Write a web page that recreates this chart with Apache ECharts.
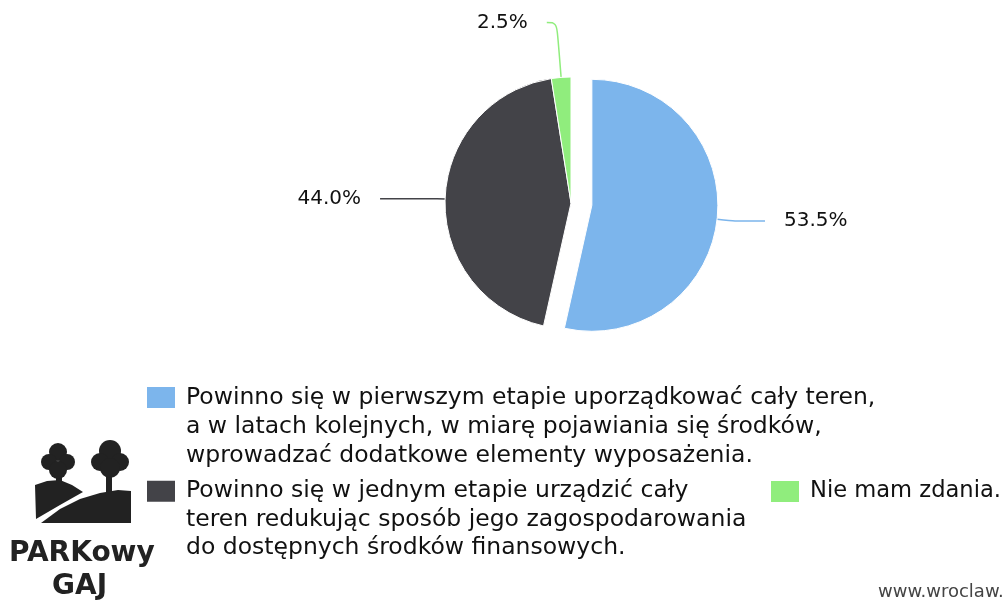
<!DOCTYPE html>
<html>
<head>
<meta charset="utf-8">
<script src="https://cdn.jsdelivr.net/npm/echarts@6/dist/echarts.min.js"></script>
<style>
html,body{margin:0;padding:0;background:#fff;}
#chart{width:1003px;height:603px;}
</style>
</head>
<body>
<div id="chart"></div>
<script>
const categories = [
  'Powinno się w pierwszym etapie uporządkować cały teren, a w latach kolejnych, w miarę pojawiania się środków, wprowadzać dodatkowe elementy wyposażenia.',
  'Powinno się w jednym etapie urządzić cały teren redukując sposób jego zagospodarowania do dostępnych środków finansowych.',
  'Nie mam zdania.'
];
const legendLines = [
  ['Powinno się w pierwszym etapie uporządkować cały teren,', 'a w latach kolejnych, w miarę pojawiania się środków,', 'wprowadzać dodatkowe elementy wyposażenia.'],
  ['Powinno się w jednym etapie urządzić cały', 'teren redukując sposób jego zagospodarowania', 'do dostępnych środków finansowych.'],
  ['Nie mam zdania.']
];
const values = [53.5, 44.0, 2.5];
const colors = ['#7cb5ec', '#434348', '#90ed7d'];
const sourceText = 'www.wroclaw.pl';
const logoLines = ['PARKowy', 'GAJ'];

const chart = echarts.init(document.getElementById('chart'), null, {renderer: 'canvas'});

const labelLineCfg = [
  {length: 18, length2: 30, smooth: 0.2},
  {length: 8, length2: 57, smooth: 0},
  {length: 55, length2: 10, smooth: 0.4}
];
const labelPad = [[7, 0, 0, 0], [4, 0, 0, 0], [4, 0, 0, 0]];

const data = categories.map((name, i) => ({
  name: name,
  value: values[i],
  selected: i === 0,
  itemStyle: {color: colors[i]},
  labelLine: labelLineCfg[i],
  label: {padding: labelPad[i]}
}));

// Leading blank lines keep the icon beside the first line of a wrapped legend entry.
function legendFmt(name) {
  const lines = legendLines[categories.indexOf(name)];
  const pad = new Array(lines.length - 1).fill('');
  return pad.concat(lines).join('\n');
}

const fontMain = '"DejaVu Sans", Verdana, sans-serif';

const legendBase = {
  orient: 'vertical',
  padding: 0,
  itemWidth: 30,
  itemHeight: 23,
  icon: 'rect',
  selectedMode: false,
  formatter: legendFmt
};

const option = {
  animation: false,
  backgroundColor: '#ffffff',
  legend: [
    Object.assign({}, legendBase, {
      data: [categories[0]], left: 145, top: 325,
      textStyle: {fontFamily: fontMain, fontSize: 23.5, lineHeight: 29, color: '#111', padding: [0, 0, 0, 5]}
    }),
    Object.assign({}, legendBase, {
      data: [categories[1]], left: 145, top: 420,
      textStyle: {fontFamily: fontMain, fontSize: 23.5, lineHeight: 28.5, color: '#111', padding: [0, 0, 0, 5]}
    }),
    Object.assign({}, legendBase, {
      data: [categories[2]], left: 769, top: 477,
      textStyle: {fontFamily: fontMain, fontSize: 22.6, lineHeight: 29, color: '#111', padding: [0, 0, 0, 5]}
    })
  ],
  series: [{
    type: 'pie',
    center: [571, 203],
    radius: 126,
    startAngle: 90,
    clockwise: true,
    selectedMode: 'single',
    selectedOffset: 21,
    avoidLabelOverlap: false,
    itemStyle: {borderColor: '#ffffff', borderWidth: 1},
    label: {
      show: true,
      formatter: p => p.value.toFixed(1) + '%',
      fontFamily: fontMain,
      fontSize: 20,
      color: '#111',
      distanceToLabelLine: 19
    },
    labelLine: {show: true, lineStyle: {width: 1.5}},
    emphasis: {disabled: true},
    select: {itemStyle: {borderColor: '#ffffff', borderWidth: 1}},
    data: data
  }],
  graphic: [
    {type: 'polygon', shape: {points: [[35,485],[47,481],[60,480],[72,485],[83,492],[60,505],[36,519]]}, style: {fill: '#222'}},
    {type: 'polygon', shape: {points: [[41,523],[60,509],[80,499],[100,493],[118,490],[131,491],[131,523]]}, style: {fill: '#222'}},
    {type: 'rect', shape: {x: 56, y: 468, width: 6, height: 18}, style: {fill: '#222'}},
    {type: 'circle', shape: {cx: 58, cy: 452, r: 9}, style: {fill: '#222'}},
    {type: 'circle', shape: {cx: 49, cy: 462, r: 8}, style: {fill: '#222'}},
    {type: 'circle', shape: {cx: 67, cy: 462, r: 8}, style: {fill: '#222'}},
    {type: 'circle', shape: {cx: 58, cy: 470, r: 9}, style: {fill: '#222'}},
    {type: 'rect', shape: {x: 106, y: 468, width: 6, height: 25}, style: {fill: '#222'}},
    {type: 'circle', shape: {cx: 110, cy: 451, r: 11}, style: {fill: '#222'}},
    {type: 'circle', shape: {cx: 100, cy: 462, r: 9}, style: {fill: '#222'}},
    {type: 'circle', shape: {cx: 120, cy: 462, r: 9}, style: {fill: '#222'}},
    {type: 'circle', shape: {cx: 110, cy: 468, r: 10}, style: {fill: '#222'}},
    {type: 'text', left: 9, top: 540, style: {text: logoLines[0], font: 'bold 28px "DejaVu Sans", sans-serif', fill: '#222'}},
    {type: 'text', left: 52, top: 573, style: {text: logoLines[1], font: 'bold 28px "DejaVu Sans", sans-serif', fill: '#222'}},
    {type: 'text', left: 878, top: 583, style: {text: sourceText, font: '18px "DejaVu Sans", sans-serif', fill: '#444'}}
  ]
};
chart.setOption(option);
</script>
</body>
</html>
